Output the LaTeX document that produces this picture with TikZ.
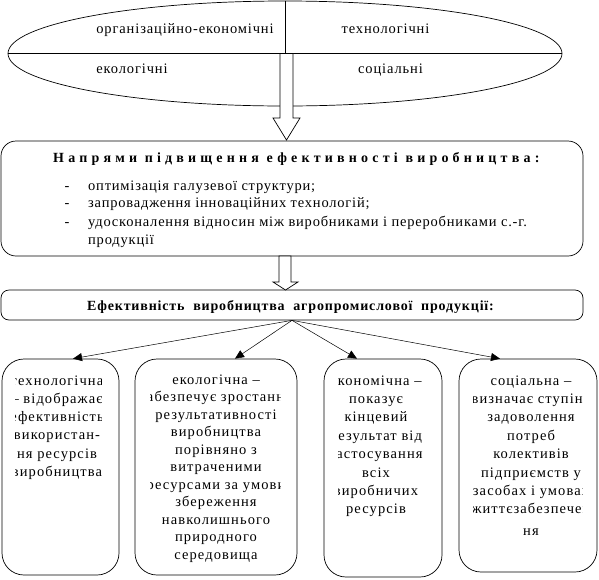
\documentclass[tikz,border=0pt]{standalone}
\usepackage{fontspec}
\setmainfont{Liberation Serif}
\usetikzlibrary{arrows.meta,shapes.geometric}
\tikzset{
  ln/.style={line width=0.7pt},
  lbl/.style={font={\fontsize{14.5}{17}\selectfont\addfontfeature{LetterSpace=6}}, inner sep=0pt, anchor=base},
  bul/.style={font={\fontsize{14.5}{17}\selectfont\addfontfeature{LetterSpace=5.5}}, inner sep=0pt, anchor=base west},
  bigbox/.style={draw, line width=0.7pt, rounded corners=15pt, inner sep=0pt},
  effbox/.style={draw, line width=0.7pt, rounded corners=22pt, inner sep=0pt},
  hollow/.style={draw, line width=0.7pt, fill=white},
  thinarrow/.style={line width=0.5pt, -{Triangle[length=9pt,width=8pt]}},
  celltext/.style={align=center, inner sep=0pt, anchor=north}
}
\newcommand{\celltxt}[1]{\fontsize{14.5}{#1}\selectfont\addfontfeature{LetterSpace=7.5}}
\begin{document}
\begin{tikzpicture}[x=1pt,y=-1pt]
\useasboundingbox (0,0) rectangle (599,579);
% top ellipse
\node[ellipse, draw, ln, minimum width=554pt, minimum height=105pt, inner sep=0pt] (ell) at (285,53.5) {};
\draw[ln] (ell.west) -- (ell.east);
\draw[ln] (ell.north) -- (ell.center);
\node[lbl] (l1) at (185,33) {організаційно-економічні};
\node[lbl] (l2) at (385.5,33) {технологічні};
\node[lbl] (l3) at (132,73) {екологічні};
\node[lbl] (l4) at (390.5,73) {соціальні};
% box 2
\node[bigbox, minimum width=582pt, minimum height=115pt] (dir) at (292,198.5) {};
\draw[hollow] (280,53.5) -- (280,118) -- (273,118) -- (286.5,140) -- (300,118) -- (293,118) -- (293,53.5) -- cycle;
\node[font={\fontsize{14}{16}\selectfont\bfseries\addfontfeature{LetterSpace=30}}, inner sep=0pt, anchor=base west] (dt) at (53,162) {Напрями підвищення ефективності виробництва:};
\node[lbl] (d1) at (67,190) {-};
\node[lbl] (d2) at (67,207) {-};
\node[lbl] (d3) at (67,226) {-};
\node[bul] (b1) at (88,190) {оптимізація галузевої структури;};
\node[bul] (b2) at (88,207) {запровадження інноваційних технологій;};
\node[bul] (b3) at (88,226) {удосконалення відносин між виробниками і переробниками с.-г.};
\node[bul] (b4) at (88,244) {продукції};
% box 3
\node[bigbox, rounded corners=8pt, minimum width=582pt, minimum height=30pt] (eff) at (292,305) {};
\draw[hollow] (279,256) -- (279,282) -- (273,282) -- (285.5,290) -- (298,282) -- (291,282) -- (291,256) -- cycle;
\node[font={\fontsize{14}{16}\selectfont\bfseries\addfontfeature{LetterSpace=6}}, inner sep=0pt, anchor=base] (et) at (290.5,310) {Ефективність\ \ виробництва\ \ агропромислової\ \ продукції:};
% bottom boxes
\node[effbox, minimum width=117pt, minimum height=216pt] (A) at (60.5,467) {};
\node[effbox, minimum width=162pt, minimum height=216pt] (B) at (216,467) {};
\node[effbox, minimum width=118pt, minimum height=218pt] (C) at (383,468) {};
\node[effbox, minimum width=138pt, minimum height=213pt] (D) at (528,465.5) {};
\draw[thinarrow] (eff.south) -- ([xshift=12.5pt]A.north);
\draw[thinarrow] (eff.south) -- ([xshift=19pt]B.north);
\draw[thinarrow] (eff.south) -- ([xshift=-26pt]C.north);
\draw[thinarrow] (eff.south) -- ([xshift=-28pt]D.north);
\begin{scope}
\clip (15,362) rectangle (101,570);
\node[celltext, font=\celltxt{18.3}] (At) at (57,372) {\strut технологічна\\– відображає\\ефективність\\використан-\\ня ресурсів\\виробництва};
\end{scope}
\begin{scope}
\clip (150,362) rectangle (280,570);
\node[celltext, font=\celltxt{17.5}] (Bt) at (216,372) {\strut екологічна –\\забезпечує зростання\\результативності\\виробництва\\порівняно з\\витраченими\\ресурсами за умови\\збереження\\навколишнього\\природного\\середовища};
\end{scope}
\begin{scope}
\clip (338,362) rectangle (423,570);
\node[celltext, font=\celltxt{18.4}] (Ct) at (376,372) {\strut економічна –\\показує\\кінцевий\\результат від\\застосування\\всіх\\виробничих\\ресурсів};
\end{scope}
\begin{scope}
\clip (473,362) rectangle (582,570);
\node[celltext, font=\celltxt{18.4}] (Dt) at (531,372) {\strut соціальна –\\визначає ступінь\\задоволення\\потреб\\колективів\\підприємств у\\засобах і умовах\\життєзабезпечен\\[3.6pt]ня};
\end{scope}
\end{tikzpicture}
\end{document}
